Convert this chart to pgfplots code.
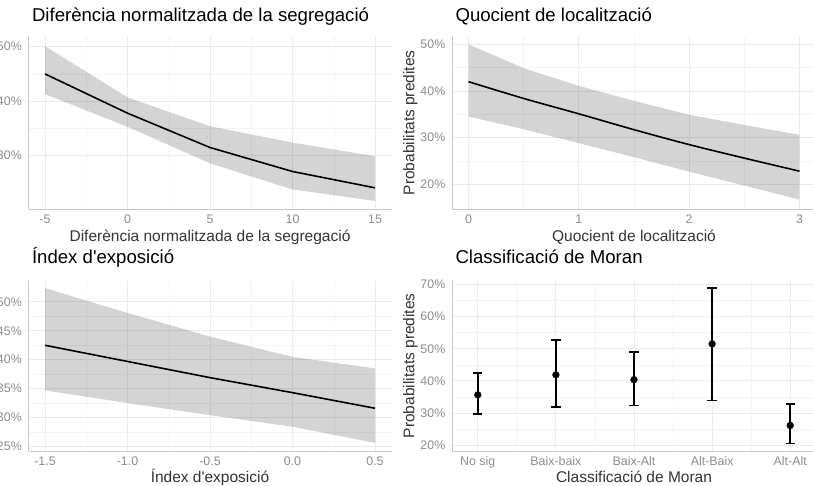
\documentclass[border=0pt]{standalone}
\usepackage{fontspec}
\setmainfont{Liberation Sans}
\newfontfamily\apo{Liberation Sans}
\usepackage{pgfplots}
\usepgfplotslibrary{fillbetween}
\usepackage{pgfplotstable}
\pgfplotsset{compat=1.18}

\definecolor{gridmaj}{HTML}{EBEBEB}
\definecolor{gridmin}{HTML}{F4F4F4}
\definecolor{axgray}{HTML}{C8C8C8}
\definecolor{ticktxt}{HTML}{8C8C8C}
\definecolor{labtxt}{HTML}{333333}

% predicted probabilities (%), with lower and upper bounds
\pgfplotstableread{
x   y    lo   hi
-5  45.0 41.3 50.1
0   37.8 35.3 40.7
5   31.5 28.6 35.4
10  27.1 23.8 32.4
15  24.1 21.7 29.9
}\segreg
\pgfplotstableread{
x   y    lo   hi
0   42.0 34.5 50.0
0.5 38.4 31.8 44.9
1   35.1 28.8 41.1
1.5 31.7 25.8 37.9
2   28.5 22.7 34.9
2.5 25.6 19.7 32.7
3   22.8 16.7 30.6
}\quocient
\pgfplotstableread{
x    y    lo   hi
-1.5 42.5 34.7 52.4
-1.0 39.7 32.5 48.1
-0.5 36.9 30.4 44.0
0    34.3 28.4 40.5
0.5  31.6 25.6 38.5
}\exposicio
\pgfplotstableread{
x y    ep   em
1 35.7 6.7  5.9
2 41.9 10.9 10.0
3 40.4 8.5  8.0
4 51.5 17.4 17.5
5 26.2 6.6  5.6
}\moran

\pgfplotsset{
  panel/.style={
    scale only axis,
    anchor=south west,
    axis x line*=bottom, axis y line*=left,
    axis line style={draw=axgray, line width=0.9pt, -},
    grid=both,
    major grid style={draw=gridmaj, line width=1pt},
    minor grid style={draw=gridmin, line width=0.5pt},
    minor tick num=1,
    major tick length=0pt, minor tick length=0pt,
    tick style={draw=none},
    /pgf/number format/assume math mode=true,
    /pgf/number format/fixed,
    tick label style={font=\fontsize{12.4}{14}\selectfont, text=ticktxt},
    xticklabel style={anchor=base, inner sep=0pt, yshift=-14.5pt},
    yticklabel style={anchor=east, inner sep=0pt, xshift=-6.5pt},
    yticklabel={\pgfmathprintnumber{\tick}\%},
    label style={font=\fontsize{15.5}{18}\selectfont, text=labtxt},
    xlabel style={at={(axis description cs:0.5,0)}, anchor=base, yshift=-32pt},
    ylabel style={anchor=base},
    ylabel={Probabilitats predites},
    title style={font=\fontsize{18.6}{22}\selectfont, text=black,
      anchor=base west, at={(axis description cs:0,1)}},
  },
  ribbon/.style={fill=black, fill opacity=0.17, draw=none},
  fitline/.style={black, line width=1.6pt, no markers},
}

\begin{document}
\begin{tikzpicture}

% top left
\begin{axis}[panel,
  at={(28.5pt,276.8pt)}, width=363pt, height=172.7pt,
  xmin=-6, xmax=16, ymin=20.18, ymax=51.87,
  xtick={-5,0,5,10,15}, ytick={30,40,50},
  title={Diferència normalitzada de la segregació},
  title style={yshift=9.2pt},
  xlabel={Diferència normalitzada de la segregació},
  ylabel style={at={(axis description cs:-0.1039,0.5)}},
]
\addplot[name path=hi, draw=none] table[x=x, y=hi] {\segreg};
\addplot[name path=lo, draw=none] table[x=x, y=lo] {\segreg};
\addplot[ribbon] fill between[of=hi and lo];
\addplot[fitline] table[x=x, y=y] {\segreg};
\end{axis}

% top right
\begin{axis}[panel,
  at={(452pt,276.8pt)}, width=364pt, height=172.7pt,
  xmin=-0.15, xmax=3.15, ymin=14.64, ymax=51.7,
  xtick={0,1,2,3}, ytick={20,30,40,50},
  title={Quocient de localització},
  title style={yshift=9.2pt},
  xlabel={Quocient de localització},
  ylabel style={at={(axis description cs:-0.1036,0.5)}},
]
\addplot[name path=hi, draw=none] table[x=x, y=hi] {\quocient};
\addplot[name path=lo, draw=none] table[x=x, y=lo] {\quocient};
\addplot[ribbon] fill between[of=hi and lo];
\addplot[fitline, smooth] table[x=x, y=y] {\quocient};
\end{axis}

% bottom left
\begin{axis}[panel,
  at={(28.5pt,35pt)}, width=363pt, height=170.4pt,
  xmin=-1.6, xmax=0.6, ymin=24.2, ymax=53.7,
  xtick={-1.5,-1.0,-0.5,0,0.5}, ytick={25,30,35,40,45,50},
  xticklabel style={/pgf/number format/fixed zerofill, /pgf/number format/precision=1},
  title={Índex d{\apo'}exposició},
  title style={yshift=11.5pt},
  xlabel={Índex d{\apo'}exposició},
  ylabel style={at={(axis description cs:-0.1039,0.5)}},
]
\addplot[name path=hi, draw=none] table[x=x, y=hi] {\exposicio};
\addplot[name path=lo, draw=none] table[x=x, y=lo] {\exposicio};
\addplot[ribbon] fill between[of=hi and lo];
\addplot[fitline] table[x=x, y=y] {\exposicio};
\end{axis}

% bottom right
\begin{axis}[panel,
  at={(452pt,35pt)}, width=364pt, height=170.4pt,
  xmin=0.67, xmax=5.33, ymin=18.27, ymax=71.15,
  xtick={1,2,3,4,5}, ytick={20,30,40,50,60,70},
  xticklabels={No sig,Baix-baix,Baix-Alt,Alt-Baix,Alt-Alt},
  title={Classificació de Moran},
  title style={yshift=11.5pt},
  xlabel={Classificació de Moran},
  ylabel style={at={(axis description cs:-0.1036,0.5)}},
]
\addplot[black, only marks, mark=*, mark size=3.4pt,
  error bars/.cd, y dir=both, y explicit,
  error bar style={line width=1.6pt, black},
  error mark options={rotate=90, black, line width=1.6pt, mark size=4.7pt}]
  table[x=x, y=y, y error plus=ep, y error minus=em] {\moran};
\end{axis}

\pgfresetboundingbox
\useasboundingbox (0pt,0pt) rectangle (813pt,486pt);
\end{tikzpicture}
\end{document}
